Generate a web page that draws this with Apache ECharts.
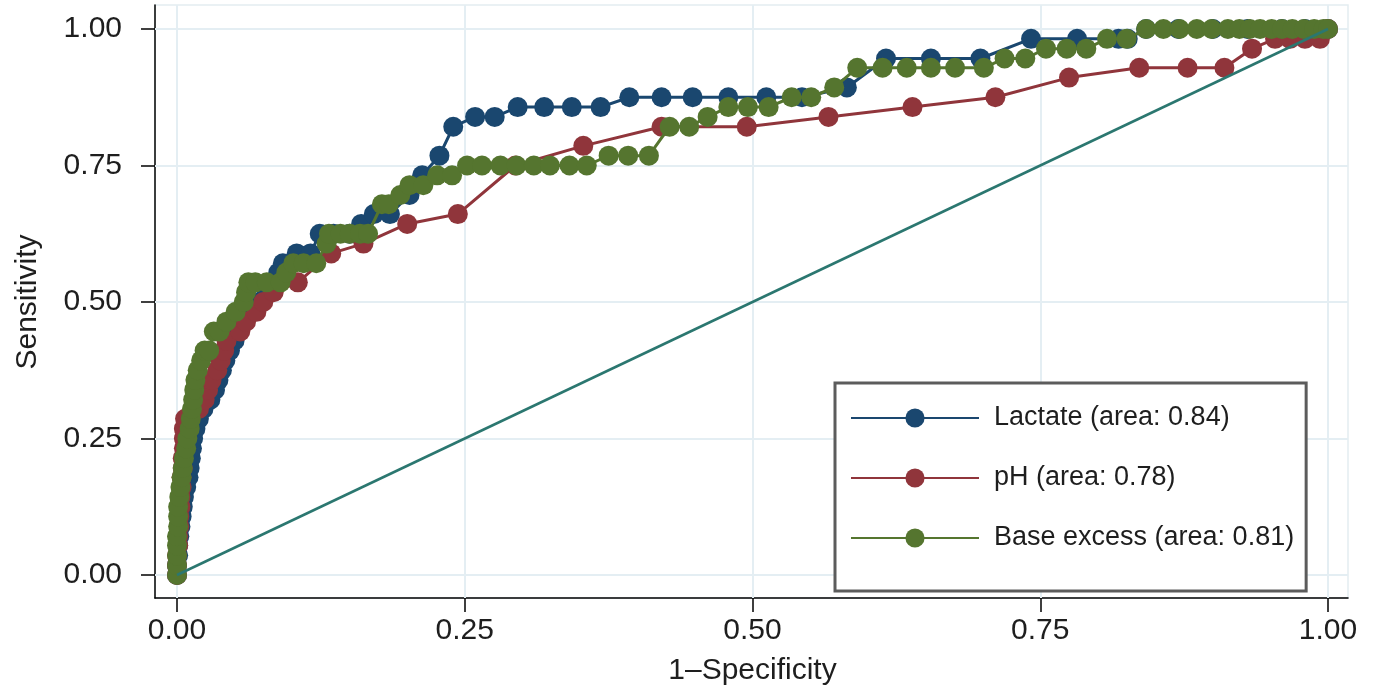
<!DOCTYPE html>
<html><head><meta charset="utf-8">
<script src="https://cdn.jsdelivr.net/npm/echarts@6/dist/echarts.min.js"></script>
<style>html,body{margin:0;padding:0;background:#fff}#c{width:1376px;height:696px}</style>
</head><body><div id="c"></div>
<script>
// ---- data ----
const tickValues = [0, 0.25, 0.5, 0.75, 1];
const seriesNames = ['Lactate (area: 0.84)', 'pH (area: 0.78)', 'Base excess (area: 0.81)'];
const xTitle = '1\u2013Specificity';
const yTitle = 'Sensitivity';

const lactate = [
  [0,0],[0,0.018],[0.001,0.036],[0.001,0.054],[0.002,0.071],[0.003,0.089],[0.004,0.107],[0.005,0.125],
  [0.006,0.143],[0.008,0.161],[0.010,0.179],[0.011,0.196],[0.012,0.214],[0.013,0.232],[0.014,0.25],
  [0.016,0.268],[0.019,0.286],[0.023,0.304],[0.029,0.321],[0.033,0.339],[0.036,0.357],[0.039,0.375],
  [0.042,0.393],[0.046,0.411],[0.05,0.429],[0.054,0.446],[0.059,0.464],[0.063,0.482],[0.072,0.5],
  [0.078,0.518],[0.083,0.536],[0.088,0.554],[0.092,0.571],[0.104,0.589],[0.116,0.589],[0.124,0.625],
  [0.136,0.625],[0.15,0.625],[0.16,0.643],[0.171,0.661],[0.185,0.661],[0.202,0.696],[0.213,0.732],
  [0.228,0.768],[0.240,0.821],[0.259,0.839],[0.276,0.839],[0.296,0.857],[0.319,0.857],[0.343,0.857],
  [0.368,0.857],[0.393,0.875],[0.421,0.875],[0.448,0.875],[0.479,0.875],[0.512,0.875],[0.543,0.875],
  [0.582,0.893],[0.616,0.946],[0.655,0.946],[0.698,0.946],[0.742,0.982],[0.782,0.982],[0.818,0.982],
  [0.826,0.982],[0.842,1],[0.87,1],[0.9,1],[0.93,1],[0.96,1],[0.98,1],[1,1]
];
const ph = [
  [0,0],[0,0.018],[0,0.036],[0.001,0.054],[0.001,0.071],[0.002,0.089],[0.002,0.107],[0.003,0.125],
  [0.003,0.143],[0.004,0.161],[0.004,0.179],[0.005,0.196],[0.005,0.214],[0.006,0.232],[0.006,0.25],
  [0.006,0.268],[0.007,0.286],[0.019,0.304],[0.024,0.321],[0.027,0.339],[0.030,0.357],[0.035,0.375],
  [0.038,0.393],[0.041,0.411],[0.043,0.429],[0.055,0.446],[0.060,0.464],[0.069,0.482],[0.075,0.5],
  [0.084,0.518],[0.105,0.536],[0.134,0.589],[0.162,0.607],[0.200,0.643],[0.244,0.661],[0.294,0.75],
  [0.353,0.786],[0.421,0.821],[0.495,0.821],[0.566,0.839],[0.639,0.857],[0.711,0.875],[0.775,0.911],
  [0.836,0.929],[0.878,0.929],[0.910,0.929],[0.934,0.964],[0.954,0.982],[0.967,0.982],[0.980,0.982],
  [0.993,0.982],[1,1]
];
const baseExcess = [
  [0,0],[0,0.018],[0,0.036],[0,0.054],[0,0.071],[0.001,0.089],[0.001,0.107],[0.001,0.125],[0.002,0.143],
  [0.003,0.161],[0.004,0.179],[0.005,0.196],[0.006,0.214],[0.008,0.232],[0.009,0.25],[0.011,0.268],
  [0.012,0.286],[0.013,0.304],[0.014,0.321],[0.015,0.339],[0.016,0.357],[0.018,0.375],[0.021,0.393],
  [0.024,0.411],[0.028,0.411],[0.032,0.446],[0.037,0.446],[0.043,0.464],[0.051,0.482],[0.058,0.5],
  [0.060,0.518],[0.062,0.536],[0.068,0.536],[0.078,0.536],[0.09,0.536],[0.095,0.554],[0.101,0.571],
  [0.110,0.571],[0.121,0.571],[0.130,0.607],[0.132,0.625],[0.142,0.625],[0.150,0.625],[0.159,0.625],
  [0.166,0.625],[0.178,0.679],[0.184,0.679],[0.194,0.696],[0.202,0.714],[0.214,0.714],[0.226,0.732],
  [0.239,0.732],[0.252,0.75],[0.265,0.75],[0.281,0.75],[0.295,0.75],[0.310,0.75],[0.324,0.75],
  [0.341,0.75],[0.356,0.75],[0.375,0.768],[0.392,0.768],[0.410,0.768],[0.428,0.821],[0.445,0.821],
  [0.461,0.839],[0.479,0.857],[0.496,0.857],[0.514,0.857],[0.534,0.875],[0.551,0.875],[0.571,0.893],
  [0.591,0.929],[0.613,0.929],[0.634,0.929],[0.655,0.929],[0.676,0.929],[0.701,0.929],[0.719,0.946],
  [0.737,0.946],[0.755,0.964],[0.773,0.964],[0.790,0.964],[0.808,0.982],[0.825,0.982],[0.842,1],
  [0.857,1],[0.871,1],[0.886,1],[0.899,1],[0.913,1],[0.923,1],[0.932,1],[0.941,1],[0.951,1],[0.960,1],
  [0.969,1],[0.979,1],[0.988,1],[0.996,1],[1,1]
];
const reference = [[tickValues[0], tickValues[0]], [tickValues[4], tickValues[4]]];

// ---- layout ----
const PL = 155, PR = 1348, PT = 5, PB = 598;     // plot region (axis lines)
const DX0 = 177, DX1 = 1328, DY1 = 29, DY0 = 575; // data 0..1 extent
const spanX = DX1 - DX0, spanY = DY0 - DY1;
const colors = ['#1a476f', '#90353b', '#55752f'];
const refColor = '#2b7770';
const txt = '#1e1e1e';
const FONT = '"Liberation Sans", Arial, sans-serif';

const chart = echarts.init(document.getElementById('c'), null, {renderer: 'canvas'});
const mkSeries = (name, data, color, z) => ({
  name, type: 'line', data, xAxisIndex: 0, yAxisIndex: 0,
  symbol: 'circle', symbolSize: 20, showAllSymbol: true, z,
  lineStyle: {color, width: 3}, itemStyle: {color},
  emphasis: {disabled: true}, animation: false
});

chart.setOption({
  backgroundColor: '#fff',
  animation: false,
  textStyle: {fontFamily: FONT},
  grid: [
    {left: PL, top: PT, width: PR - PL, height: PB - PT, show: true,
     borderColor: '#e4edf1', borderWidth: 1.5, backgroundColor: 'transparent'},
    {left: DX0, top: DY1, width: spanX, height: spanY}
  ],
  xAxis: [
    {gridIndex: 0, type: 'value', min: -(DX0 - PL) / spanX, max: 1 + (PR - DX1) / spanX,
     axisLine: {show: true, onZero: false, lineStyle: {color: '#000', width: 1.5}},
     axisTick: {show: false}, axisLabel: {show: false}, splitLine: {show: false}},
    {gridIndex: 1, type: 'value', min: tickValues[0], max: tickValues[4], interval: 0.25,
     offset: PB - DY0, axisLine: {show: false, onZero: false},
     axisTick: {show: true, length: 14, lineStyle: {color: '#000', width: 1.5}},
     axisLabel: {fontSize: 30, color: txt, margin: 18, fontFamily: FONT,
                 formatter: v => v.toFixed(2)},
     splitLine: {show: false},
     name: xTitle, nameLocation: 'middle', nameGap: 58,
     nameTextStyle: {fontSize: 30, color: txt, fontFamily: FONT}}
  ],
  yAxis: [
    {gridIndex: 0, type: 'value', min: -(PB - DY0) / spanY, max: 1 + (DY1 - PT) / spanY,
     axisLine: {show: true, onZero: false, lineStyle: {color: '#000', width: 1.5}},
     axisTick: {show: false}, axisLabel: {show: false}, splitLine: {show: false}},
    {gridIndex: 1, type: 'value', min: tickValues[0], max: tickValues[4], interval: 0.25,
     offset: DX0 - PL, axisLine: {show: false, onZero: false},
     axisTick: {show: true, length: 14, lineStyle: {color: '#000', width: 1.5}},
     axisLabel: {fontSize: 30, color: txt, margin: 33, fontFamily: FONT,
                 formatter: v => v.toFixed(2)},
     splitLine: {show: false},
     name: yTitle, nameLocation: 'middle', nameGap: 112, nameRotate: 90,
     nameTextStyle: {fontSize: 30, color: txt, fontFamily: FONT}}
  ],
  legend: {
    data: seriesNames, orient: 'vertical', left: 835, top: 383,
    padding: [20, 12, 38, 15], itemWidth: 128, itemHeight: 24, itemGap: 30,
    backgroundColor: '#fff', borderColor: '#5c5c5c', borderWidth: 3, borderRadius: 0,
    selectedMode: false, z: 20,
    textStyle: {fontSize: 27, lineHeight: 30, color: txt, fontFamily: FONT, padding: [0, 0, 0, 10]}
  },
  series: [
    mkSeries(seriesNames[0], lactate, colors[0], 3),
    mkSeries(seriesNames[1], ph, colors[1], 4),
    mkSeries(seriesNames[2], baseExcess, colors[2], 5),
    {name: 'reference', type: 'line', data: reference, xAxisIndex: 0, yAxisIndex: 0,
     symbol: 'none', z: 6, lineStyle: {color: refColor, width: 2.5}, animation: false,
     emphasis: {disabled: true},
     markLine: {silent: true, symbol: ['none', 'none'], z: 1, animation: false,
       label: {show: false}, lineStyle: {color: '#e4eef3', width: 2, type: 'solid'},
       emphasis: {disabled: true},
       data: tickValues.map(v => ({xAxis: v})).concat(tickValues.map(v => ({yAxis: v})))}}
  ]
});
</script></body></html>
